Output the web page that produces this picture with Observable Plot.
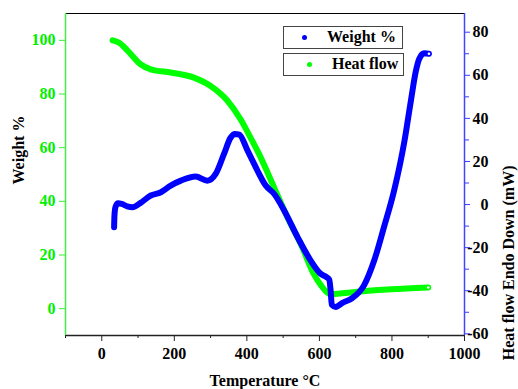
<!DOCTYPE html>
<html><head><meta charset="utf-8">
<script src="https://cdn.jsdelivr.net/npm/d3@7"></script>
<script src="https://cdn.jsdelivr.net/npm/@observablehq/plot@0.6"></script>
<style>
body{margin:0;background:#fff;}
#wrap{position:relative;width:518px;height:389px;font-family:"Liberation Serif","Times New Roman",serif;font-weight:bold;}
.lg{position:absolute;border:1.5px solid #444;background:#fff;box-sizing:border-box;height:23px;}
.lg .dot{position:absolute;width:5px;height:5px;border-radius:50%;}
.lg .txt{position:absolute;font-size:16px;line-height:20px;top:0;white-space:nowrap;}
</style>
</head><body>
<div id="wrap"></div>
<script>
// Weight % (green, left axis)
const tempG   = [30, 48, 71, 107, 135, 190, 254, 300, 346, 383, 411, 438, 475, 512, 549, 585, 605, 622, 631, 705, 797, 900];
const weightG = [100, 99.1, 96.2, 91.1, 89.2, 88, 86.1, 83, 77.6, 70.5, 63.5, 56.4, 45.2, 34, 24, 12.8, 8.6, 6, 5.4, 6.3, 7.2, 7.9];
// Heat flow (blue, right axis)
const tempB = [34, 35, 38, 45, 55, 70, 85, 107, 135, 163, 190, 218, 259, 291, 314, 337, 355, 367, 379, 402, 420, 429, 452, 475, 503, 540, 576, 604, 618, 627, 631, 634, 645, 665, 690, 723, 751, 778, 806, 834, 852, 866, 875, 889, 902];
const heatB = [-10.5, -5, -1, 0.6, 0.3, -0.8, -1.2, 0.8, 4.2, 5.7, 8.8, 11.1, 13, 11.1, 14.2, 23.5, 31, 32.8, 32.5, 25, 18.9, 15.8, 8.8, 5, -2.8, -15.2, -26, -32.2, -33.5, -34.8, -40, -46.5, -47.5, -45.5, -43.5, -37.5, -26, -10.5, 6.5, 29, 48, 62, 67.6, 70.2, 70];

const xMajor = [0, 200, 400, 600, 800, 1000];
const xMinor = [-100, 100, 300, 500, 700, 900];
const wTicks = [0, 20, 40, 60, 80, 100];
const hTicks = [-60, -40, -20, 0, 20, 40, 60, 80];
const hMinor = [-50, -30, -10, 10, 30, 50, 70];
const xDomain = [-100, 1000];
const wDomain = [-10, 110];
const hDomain = [-60.78, 88.68];

const GREEN = "#00ff00", BLUE = "#0000ff";
// map heat flow onto the weight scale (shared y)
const toW = h => wDomain[0] + (h - hDomain[0]) / (hDomain[1] - hDomain[0]) * (wDomain[1] - wDomain[0]);
const fromW = w => hDomain[0] + (w - wDomain[0]) / (wDomain[1] - wDomain[0]) * (hDomain[1] - hDomain[0]);

const green = tempG.map((t, i) => ({t, v: weightG[i]}));
const blue = tempB.map((t, i) => ({t, v: toW(heatB[i])}));
const F = {fontFamily: "Liberation Serif", fontWeight: "bold", fontSize: 16};

const chart = Plot.plot({
  width: 518, height: 389,
  marginTop: 13, marginBottom: 54, marginLeft: 65, marginRight: 54,
  style: {fontFamily: "Liberation Serif", fontWeight: "bold", fontSize: "16px", background: "white", overflow: "visible"},
  x: {domain: xDomain},
  y: {domain: wDomain},
  marks: [
    Plot.axisX(xMajor, {tickSize: 6, tickPadding: 6, label: null, tickFormat: d => String(d), stroke: "#222", fill: "black", ...F}),
    Plot.axisX(xMinor, {tickSize: 3, tickFormat: () => "", label: null, stroke: "#222"}),
    Plot.axisY(wTicks, {anchor: "left", tickSize: 6, tickPadding: 4, label: null, tickFormat: d => String(d), stroke: "#33ee33", fill: "#00f000", ...F}),
    Plot.axisY(hTicks.map(toW), {anchor: "right", tickSize: 5, tickPadding: 19, textAnchor: "end", label: null,
      tickFormat: d => String(Math.round(fromW(d))), stroke: "#3b3bff", fill: "black", ...F}),
    Plot.axisY(hMinor.map(toW), {anchor: "right", tickSize: 4, tickFormat: () => "", label: null, stroke: "#3b3bff"}),
    Plot.ruleY([wDomain[1]], {stroke: "black", strokeWidth: 1}),
    Plot.ruleY([wDomain[0]], {stroke: "#222", strokeWidth: 1.5}),
    Plot.ruleX([xDomain[0]], {stroke: "#44ee44", strokeWidth: 1.5}),
    Plot.ruleX([xDomain[1]], {stroke: "#4444ff", strokeWidth: 1.5}),
    Plot.line(green, {x: "t", y: "v", stroke: GREEN, strokeWidth: 6, strokeLinecap: "round", strokeLinejoin: "round", curve: "monotone-x"}),
    Plot.line(blue, {x: "t", y: "v", stroke: BLUE, strokeWidth: 6, strokeLinecap: "round", strokeLinejoin: "round", curve: "monotone-x"}),
    Plot.dot([green[green.length - 1], blue[blue.length - 1]], {x: "t", y: "v", r: 1.3, fill: "white", stroke: "none"}),
    Plot.text(["Temperature °C"], {frameAnchor: "bottom", dy: 45, lineAnchor: "middle", ...F}),
    Plot.text(["Weight %"], {frameAnchor: "left", dx: -47, dy: 10, rotate: -90, lineAnchor: "middle", ...F}),
    Plot.text(["Heat flow Endo Down (mW)"], {frameAnchor: "right", dx: 44, dy: -9, rotate: -90, lineAnchor: "middle", ...F})
  ]
});

const wrap = document.getElementById("wrap");
wrap.appendChild(chart);

const legend = [
  {label: "Weight %", color: BLUE, left: 283, top: 26, width: 120, dotX: 18, txtX: 43},
  {label: "Heat flow", color: GREEN, left: 283, top: 53, width: 121, dotX: 23, txtX: 48}
];
for (const l of legend) {
  const box = document.createElement("div");
  box.className = "lg";
  box.style.left = l.left + "px"; box.style.top = l.top + "px"; box.style.width = l.width + "px";
  const dot = document.createElement("span");
  dot.className = "dot"; dot.style.background = l.color;
  dot.style.left = l.dotX + "px"; dot.style.top = "8px";
  const txt = document.createElement("span");
  txt.className = "txt"; txt.textContent = l.label; txt.style.left = l.txtX + "px";
  box.appendChild(dot); box.appendChild(txt);
  wrap.appendChild(box);
}
</script>
</body></html>
